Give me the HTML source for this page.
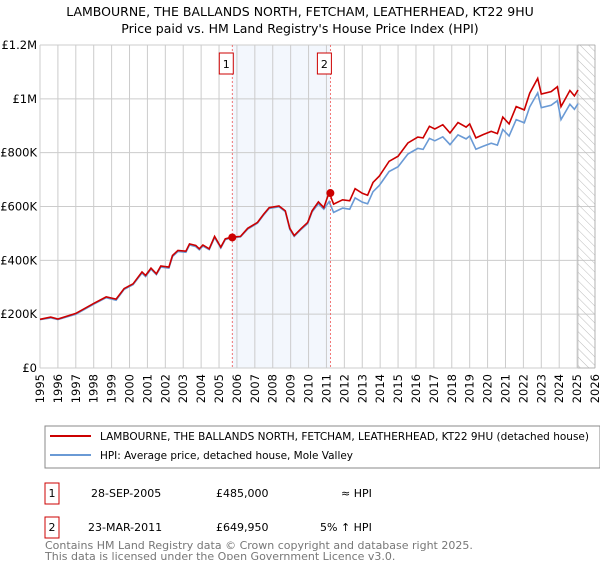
<!DOCTYPE html>
<html><head><meta charset="utf-8"><style>
body{margin:0;background:#fff;font-family:"Liberation Sans","DejaVu Sans",sans-serif;}
</style></head><body>
<svg id="chart" width="600" height="560" xmlns="http://www.w3.org/2000/svg" font-family="DejaVu Sans, Liberation Sans, sans-serif">
<defs><pattern id="hatch" width="6" height="6" patternUnits="userSpaceOnUse" patternTransform="rotate(-45)"><line x1="0" y1="0" x2="0" y2="6" stroke="#bbb" stroke-width="1"/></pattern></defs>
<text x="300" y="16" text-anchor="middle" font-size="12.5">LAMBOURNE, THE BALLANDS NORTH, FETCHAM, LEATHERHEAD, KT22 9HU</text>
<text x="300" y="33" text-anchor="middle" font-size="12.5">Price paid vs. HM Land Registry's House Price Index (HPI)</text>
<g id="grid"></g>
<g id="series"></g>
<g>
<rect x="45" y="426" width="555" height="42" fill="#fff" stroke="#888"/>
<line x1="50" y1="436" x2="91" y2="436" stroke="#cc0000" stroke-width="2"/>
<text x="100" y="440" font-size="10.5" textLength="489" lengthAdjust="spacingAndGlyphs">LAMBOURNE, THE BALLANDS NORTH, FETCHAM, LEATHERHEAD, KT22 9HU (detached house)</text>
<line x1="50" y1="455" x2="91" y2="455" stroke="#6a9ad5" stroke-width="2"/>
<text x="100" y="459" font-size="10.5" textLength="253" lengthAdjust="spacingAndGlyphs">HPI: Average price, detached house, Mole Valley</text>
</g>
<g font-size="11">
<rect x="45" y="483" width="14" height="21" fill="#fff" stroke="#cc0000"/><text x="52" y="497" text-anchor="middle">1</text>
<text x="91" y="497">28-SEP-2005</text><text x="216" y="497">£485,000</text><text x="341" y="497">≈ HPI</text>
<rect x="45" y="517" width="14" height="21" fill="#fff" stroke="#cc0000"/><text x="52" y="531" text-anchor="middle">2</text>
<text x="88" y="531">23-MAR-2011</text><text x="216" y="531">£649,950</text><text x="320" y="531">5% ↑ HPI</text>
</g>
<text x="45" y="549" font-size="11" fill="#777">Contains HM Land Registry data © Crown copyright and database right 2025.</text>
<text x="45" y="560" font-size="11" fill="#777">This data is licensed under the Open Government Licence v3.0.</text>
</svg>
<script>
const years=[1995,1996,1997,1998,1999,2000,2001,2002,2003,2004,2005,2006,2007,2008,2009,2010,2011,2012,2013,2014,2015,2016,2017,2018,2019,2020,2021,2022,2023,2024,2025,2026];
const yTicks=[0,200000,400000,600000,800000,1000000,1200000];
const yTickLabels=["£0","£200K","£400K","£600K","£800K","£1M","£1.2M"];
const priceT=[1995,1995.6,1996,1997,1998,1998.7,1999.25,1999.7,2000.2,2000.7,2000.9,2001.2,2001.5,2001.75,2002.2,2002.4,2002.7,2003.15,2003.35,2003.7,2003.9,2004.1,2004.45,2004.75,2005.1,2005.35,2005.7,2006.2,2006.6,2007.15,2007.5,2007.8,2008.35,2008.7,2008.95,2009.2,2009.6,2009.95,2010.2,2010.55,2010.85,2011.15,2011.4,2011.9,2012.3,2012.6,2013,2013.3,2013.6,2013.95,2014.5,2015,2015.55,2016.1,2016.4,2016.75,2017.05,2017.5,2017.9,2018.35,2018.8,2019,2019.35,2019.75,2020.2,2020.55,2020.85,2021.2,2021.6,2022.05,2022.35,2022.8,2023,2023.55,2023.9,2024.1,2024.6,2024.85,2025.05];
const priceVals=[181,189,182,203,240,264,256,295,313,357,344,371,350,379,375,418,437,434,461,455,443,457,443,489,449,480,486,489,519,541,572,596,602,584,519,492,519,541,584,617,596,652,609,625,621,666,649,642,689,713,768,787,836,858,855,898,888,904,873,912,895,907,855,867,879,871,932,907,971,959,1021,1076,1018,1027,1045,971,1031,1011,1033];
const hpiVals=[180,186,180,200,237,261,252,292,310,353,340,367,347,375,371,414,433,430,457,451,439,453,440,485,446,477,484,487,516,538,569,593,599,581,515,489,516,537,580,610,590,618,578,594,590,632,616,610,655,678,730,748,795,816,812,853,844,859,830,866,851,862,813,824,835,828,886,862,923,911,970,1022,967,976,993,923,980,961,982];
const saleDates=[2005.74,2011.22];const saleVals=[485000,649950];
const X0=40,X1=595,Y0=368,Y1=45;
const xs=y=>X0+(y-1995)/(2026-1995)*(X1-X0);
const ys=v=>Y0-v/1200000*(Y0-Y1);
const NS="http://www.w3.org/2000/svg";
function mk(t,a,p){const e=document.createElementNS(NS,t);for(const k in a)e.setAttribute(k,a[k]);p.appendChild(e);return e;}
const g=document.getElementById('grid'),s=document.getElementById('series');
const band=mk('rect',{x:xs(saleDates[0]),y:Y1,width:xs(saleDates[1])-xs(saleDates[0]),height:Y0-Y1,fill:'#eef3fc',opacity:0.7},g);


years.forEach(y=>{const l=mk('line',{x1:xs(y),x2:xs(y),y1:Y1,y2:Y0,stroke:'#ccc'},g);


const tx=xs(y)+4,ty=Y0+6;
const t=mk('text',{x:tx,y:ty,'text-anchor':'end','font-size':11.5,transform:'rotate(-90 '+tx+' '+ty+')'},g);t.textContent=y;

});
yTicks.forEach((v,i)=>{const l=mk('line',{x1:X0,x2:X1,y1:ys(v),y2:ys(v),stroke:'#ccc'},g);


const t=mk('text',{x:X0-3,y:ys(v)+4,'text-anchor':'end','font-size':11.5},g);t.textContent=yTickLabels[i];

});
const h=mk('rect',{x:xs(2025.05),y:Y1,width:X1-xs(2025.05),height:Y0-Y1,fill:'url(#hatch)',stroke:'#999','stroke-width':0.5},g);


const pts=a=>priceT.map((t,i)=>xs(t).toFixed(1)+','+ys(a[i]*1000).toFixed(1)).join(' ');
const hp=mk('polyline',{points:pts(hpiVals),fill:'none',stroke:'#6a9ad5','stroke-width':1.6},s);


const pp=mk('polyline',{points:pts(priceVals),fill:'none',stroke:'#cc0000','stroke-width':1.6},s);


saleDates.forEach((d,i)=>{const l=mk('line',{x1:xs(d),x2:xs(d),y1:Y1,y2:Y0,stroke:'#e55','stroke-dasharray':'2,2','stroke-width':0.8},s);


const c=mk('circle',{cx:xs(d),cy:ys(saleVals[i]),r:4,fill:'#cc0000'},s);


const b=mk('rect',{x:xs(d)-13,y:53,width:14,height:21,fill:'#fff',stroke:'#cc0000'},s);


const t=mk('text',{x:xs(d)-6,y:68,'text-anchor':'middle','font-size':11},s);t.textContent=i+1;

});
</script>
</body></html>
